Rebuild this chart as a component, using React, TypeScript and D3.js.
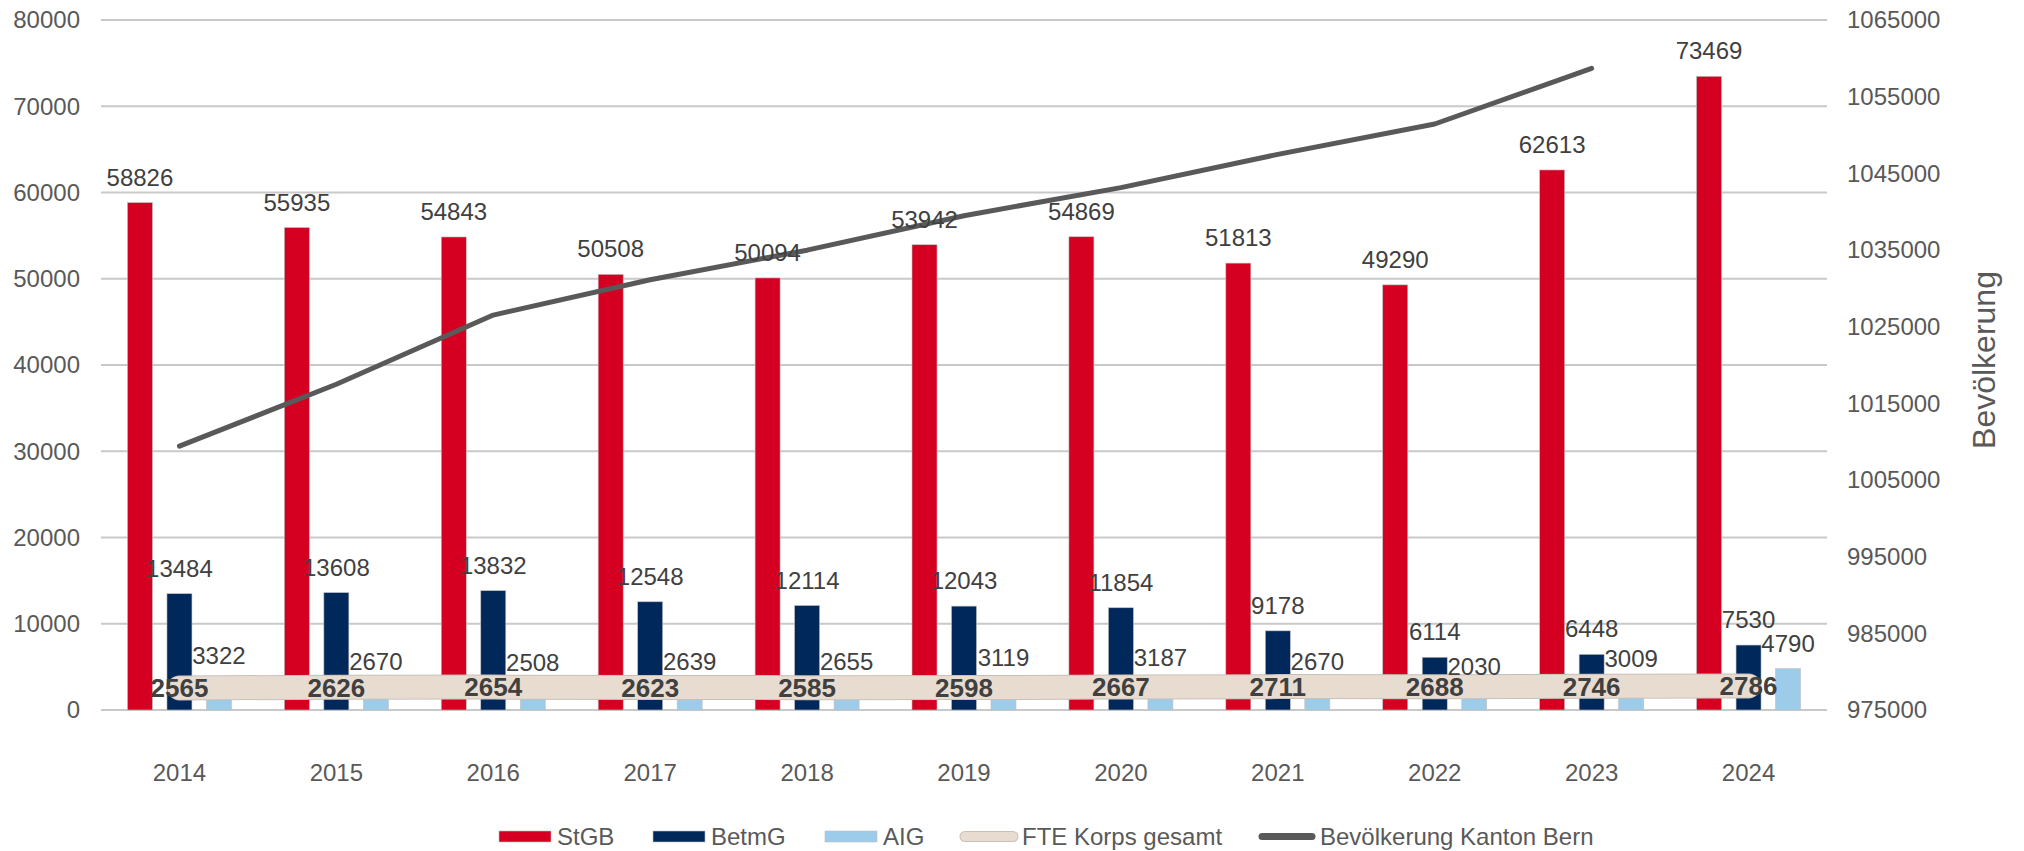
import React from "react";
import * as d3 from "d3";

const years = ["2014", "2015", "2016", "2017", "2018", "2019", "2020", "2021", "2022", "2023", "2024"];
const stgb = [58826, 55935, 54843, 50508, 50094, 53942, 54869, 51813, 49290, 62613, 73469];
const betmg = [13484, 13608, 13832, 12548, 12114, 12043, 11854, 9178, 6114, 6448, 7530];
const aig = [3322, 2670, 2508, 2639, 2655, 3119, 3187, 2670, 2030, 3009, 4790];
const fte = [2565, 2626, 2654, 2623, 2585, 2598, 2667, 2711, 2688, 2746, 2786];
const bevYears = ["2014", "2015", "2016", "2017", "2018", "2019", "2020", "2021", "2022", "2023"];
const bevoelkerung = [1009418, 1017483, 1026513, 1031126, 1034977, 1039474, 1043132, 1047473, 1051437, 1058700];
const leftTicks = [0, 10000, 20000, 30000, 40000, 50000, 60000, 70000, 80000];
const rightTicks = [975000, 985000, 995000, 1005000, 1015000, 1025000, 1035000, 1045000, 1055000, 1065000];
const seriesNames = ["StGB", "BetmG", "AIG"];
const legendNames = ["StGB", "BetmG", "AIG", "FTE Korps gesamt", "Bevölkerung Kanton Bern"];

const W = 2024;
const H = 851;
const FONT = "'Liberation Sans', Arial, sans-serif";
const AXIS = "#595959";
const LABEL = "#404040";
const COLORS = ["#D50021", "#00285A", "#9DCBEA"];
const BEIGE = "#E8DCD1";
const LINE = "#595959";

export default function App() {
  const plotL = 101, plotR = 1827, plotT = 20, plotB = 710;
  const x = d3.scaleBand<string>().domain(years).range([plotL, plotR]).padding(0);
  const bw = x.bandwidth();
  const inner = d3.scaleBand<string>().domain(seriesNames).range([-52, 52]).paddingInner(0.367).paddingOuter(0);
  const y = d3.scaleLinear().domain([0, 80000]).range([plotB, plotT]);
  const y2 = d3.scaleLinear().domain([975000, 1065000]).range([plotB, plotT]);
  const cx = (yr: string) => (x(yr) as number) + bw / 2;

  const series = [stgb, betmg, aig];

  const fteLine = d3.line<number>().x((_, i) => cx(years[i])).y((d) => y(d));
  const bevLine = d3.line<number>().x((_, i) => cx(bevYears[i])).y((d) => y2(d));

  const legendX = [499, 653, 825, 960, 1258];
  const legendY = 836.5;

  return (
    <svg width={W} height={H} style={{ position: "absolute", left: 0, top: 0, background: "#fff" }} fontFamily={FONT}>
      <rect x={0} y={0} width={W} height={H} fill="#fff" />
      {leftTicks.map((t) => (
        <line key={"g" + t} x1={plotL} x2={plotR} y1={y(t)} y2={y(t)} stroke="#C9C9C9" strokeWidth={2} />
      ))}
      {leftTicks.map((t) => (
        <text key={"lt" + t} x={80} y={y(t)} dy="0.35em" textAnchor="end" fontSize={24} fill={AXIS}>
          {t}
        </text>
      ))}
      {rightTicks.map((t) => (
        <text key={"rt" + t} x={1847} y={y2(t)} dy="0.35em" textAnchor="start" fontSize={24} fill={AXIS}>
          {t}
        </text>
      ))}
      <text x={1995} y={360} transform="rotate(-90 1995 360)" textAnchor="middle" fontSize={32} fill={AXIS}>
        Bevölkerung
      </text>
      {years.map((yr) => (
        <text key={"x" + yr} x={cx(yr)} y={781} textAnchor="middle" fontSize={24} fill={AXIS}>
          {yr}
        </text>
      ))}
      {series.map((s, si) =>
        s.map((v, i) => (
          <rect
            key={"b" + si + "-" + i}
            x={cx(years[i]) + (inner(seriesNames[si]) as number)}
            y={y(v)}
            width={inner.bandwidth()}
            height={plotB - y(v)}
            fill={COLORS[si]}
            stroke="#BFBFBF"
            strokeWidth={0.6}
          />
        ))
      )}
      <path d={fteLine(fte) as string} fill="none" stroke="#C8C0B8" strokeWidth={25} strokeLinecap="round" strokeLinejoin="round" />
      <path d={fteLine(fte) as string} fill="none" stroke={BEIGE} strokeWidth={23} strokeLinecap="round" strokeLinejoin="round" />
      <path d={bevLine(bevoelkerung) as string} fill="none" stroke={LINE} strokeWidth={5} strokeLinecap="round" strokeLinejoin="round" />
      {series.map((s, si) =>
        s.map((v, i) => (
          <text
            key={"l" + si + "-" + i}
            x={cx(years[i]) + (inner(seriesNames[si]) as number) + inner.bandwidth() / 2}
            y={y(v) - 17}
            textAnchor="middle"
            fontSize={24}
            fill={LABEL}
          >
            {v}
          </text>
        ))
      )}
      {fte.map((v, i) => (
        <text key={"f" + i} x={cx(years[i])} y={y(v)} dy="0.36em" textAnchor="middle" fontSize={26} fontWeight="bold" fill={LABEL}>
          {v}
        </text>
      ))}
      {legendNames.map((n, i) => {
        const lx = legendX[i];
        let sw;
        if (i < 3) {
          sw = <rect x={lx} y={legendY - 5.5} width={52} height={11} fill={COLORS[i]} stroke="#BFBFBF" strokeWidth={0.6} />;
        } else if (i === 3) {
          sw = (
            <g>
              <line x1={lx + 5} x2={lx + 53} y1={legendY} y2={legendY} stroke="#C8C0B8" strokeWidth={11} strokeLinecap="round" />
              <line x1={lx + 5} x2={lx + 53} y1={legendY} y2={legendY} stroke={BEIGE} strokeWidth={9} strokeLinecap="round" />
            </g>
          );
        } else {
          sw = <line x1={lx + 4} x2={lx + 54} y1={legendY} y2={legendY} stroke={LINE} strokeWidth={7} strokeLinecap="round" />;
        }
        return (
          <g key={"lg" + i}>
            {sw}
            <text x={lx + (i >= 3 ? 62 : 58)} y={legendY} dy="0.35em" fontSize={24} fill={AXIS}>
              {n}
            </text>
          </g>
        );
      })}
    </svg>
  );
}
